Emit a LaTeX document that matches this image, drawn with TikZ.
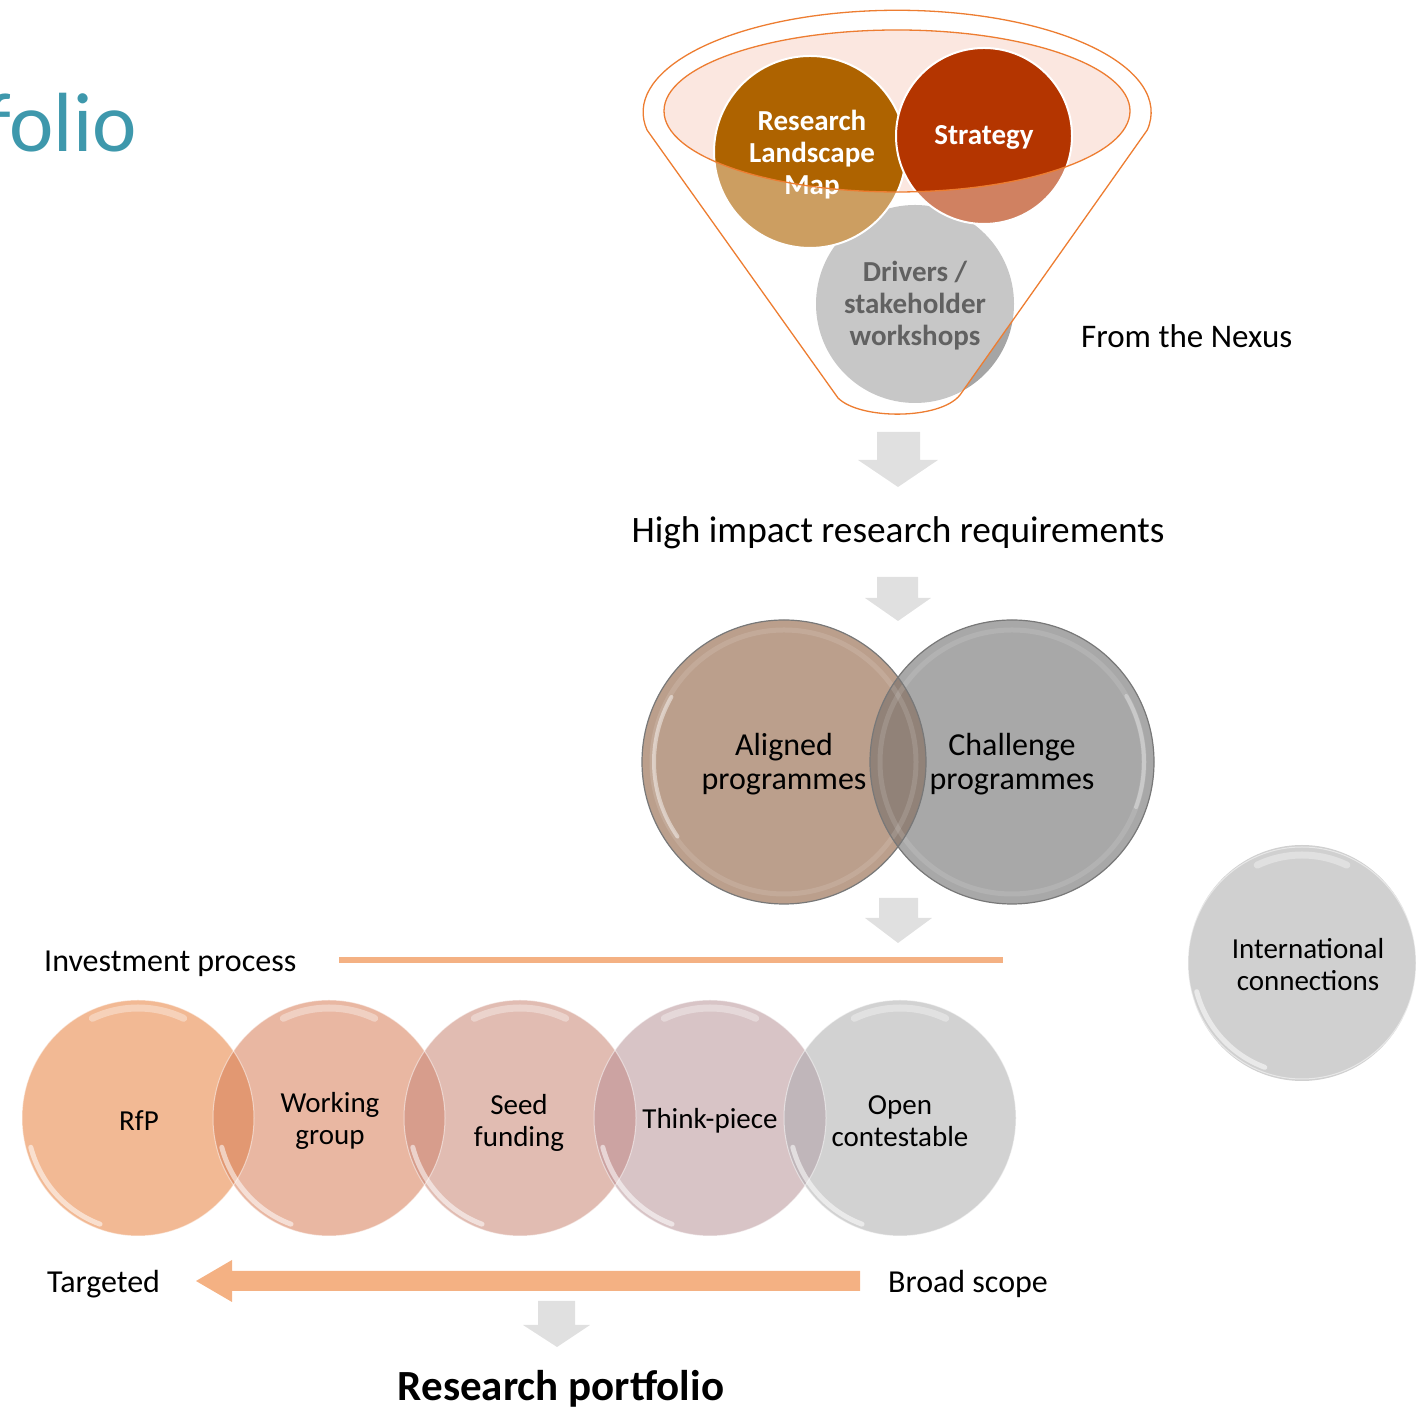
\documentclass[tikz,border=0pt]{standalone}
\usepackage{fontspec}
\setmainfont{Carlito}
\definecolor{funnelor}{RGB}{237,125,49}
\definecolor{pinkfill}{RGB}{251,231,224}
\definecolor{rlmcol}{RGB}{174,99,0}
\definecolor{stratcol}{RGB}{180,53,0}
\definecolor{drvcol}{RGB}{165,165,165}
\definecolor{blockgray}{RGB}{224,224,224}
\definecolor{lineor}{RGB}{244,177,131}
\definecolor{alignedcol}{RGB}{187,159,140}
\definecolor{challcol}{RGB}{168,168,168}
\definecolor{overac}{RGB}{145,130,120}
\definecolor{ringdark}{RGB}{120,120,120}
\definecolor{intlcol}{RGB}{208,208,208}
\definecolor{cA}{RGB}{242,185,148}
\definecolor{cB}{RGB}{233,183,162}
\definecolor{cC}{RGB}{225,188,178}
\definecolor{cD}{RGB}{216,196,198}
\definecolor{cE}{RGB}{210,210,210}
\definecolor{oAB}{RGB}{226,152,114}
\definecolor{oBC}{RGB}{215,157,140}
\definecolor{oCD}{RGB}{204,163,162}
\definecolor{oDE}{RGB}{192,182,186}
\definecolor{titleteal}{RGB}{62,152,172}
\tikzset{
  lbl/.style={font=\fontsize{32}{35}\selectfont, inner sep=0pt},
  wtxt/.style={font=\bfseries\fontsize{29}{32}\selectfont, align=center, inner sep=0pt, text=white},
  ktxt/.style={font=\bfseries\fontsize{29}{32}\selectfont, align=center, inner sep=0pt, text=black},
  ctxt/.style={font=\fontsize{29}{32}\selectfont, align=center, inner sep=0pt},
  mtxt/.style={font=\fontsize{32}{34}\selectfont, align=center, inner sep=0pt},
  blockarrow/.style={fill=blockgray},
  rimlight/.style={draw=white, draw opacity=0.55, line width=5, line cap=round},
  toplight/.style={draw=white, draw opacity=0.35, line width=7, line cap=round},
  edgelight/.style={draw=white, draw opacity=0.5, line width=1},
}
\newcommand{\glossell}[3]{% x, y, radius
  \draw[edgelight] (#1,#2) ellipse [x radius=#3-1, y radius=#3+1];
  \draw[rimlight] (#1,#2) ++(195:{#3-6} and {#3-4}) arc [start angle=195, end angle=250, x radius={#3-6}, y radius={#3-4}];
  \draw[toplight] (#1,#2) ++(65:{#3-9} and {#3-7}) arc [start angle=65, end angle=115, x radius={#3-9}, y radius={#3-7}];
}
\begin{document}
\begin{tikzpicture}[x=1pt,y=1pt]
\useasboundingbox (0,0) rectangle (1416,1407);

% title fragment
\node[font=\fontsize{84}{90}\selectfont, text=titleteal, anchor=base east, inner sep=0pt] (title) at (137,1255) {folio};

% ---------- funnel ----------
\fill[pinkfill] (897,1296) ellipse [x radius=233, y radius=81];
\fill[drvcol] (915,1103) circle [radius=99];
\draw[white, line width=2, fill=rlmcol] (810,1255) circle [radius=96];
\draw[white, line width=2, fill=stratcol] (984,1271) circle [radius=88];
\node[wtxt] (rlm) at (812,1252) {Research\\Landscape\\Map};
\node[wtxt] (strat) at (984,1270) {Strategy};
\node[ktxt] (drv) at (915,1101) {Drivers /\\stakeholder\\workshops};
% translucent funnel body (outside inner ellipse)
\fill[white, fill opacity=0.38, even odd rule]
  (647,1277) arc [start angle=190, end angle=-10, x radius=254, y radius=102]
  -- (960,1012) .. controls (940,987) and (860,987) .. (838,1009) -- cycle
  (897,1296) ellipse [x radius=233, y radius=81];
\draw[funnelor, line width=1.3]
  (647,1277) arc [start angle=190, end angle=-10, x radius=254, y radius=102]
  -- (960,1012) .. controls (940,987) and (860,987) .. (838,1009) -- cycle;
\draw[funnelor, line width=1.3] (897,1296) ellipse [x radius=233, y radius=81];

\node[font=\fontsize{33}{36}\selectfont, inner sep=0pt, anchor=west] (nexus) at (1081,1071) {From the Nexus};

% ---------- block arrows ----------
\fill[blockarrow] (877,975) -- (920,975) -- (920,947) -- (938,947) -- (898,920) -- (858,947) -- (877,947) -- cycle;
\node[font=\fontsize{37.3}{40}\selectfont, inner sep=0pt] (req) at (898,874) {High impact research requirements};
\fill[blockarrow] (877,830) -- (918,830) -- (918,809) -- (931,809) -- (898,786) -- (865,809) -- (877,809) -- cycle;

% ---------- aligned / challenge ----------
\fill[alignedcol] (784,645) circle [radius=142];
\fill[challcol] (1012,645) circle [radius=142];
\begin{scope}
  \clip (784,645) circle [radius=142];
  \fill[overac] (1012,645) circle [radius=142];
\end{scope}
\draw[white, draw opacity=0.12, line width=5] (784,645) circle [radius=132];
\draw[white, draw opacity=0.12, line width=5] (1012,645) circle [radius=132];
\draw[white, draw opacity=0.45, line width=4, line cap=round] (784,645) ++(150:130) arc [start angle=150, end angle=215, radius=130];
\draw[white, draw opacity=0.3, line width=4, line cap=round] (1012,645) ++(-20:132) arc [start angle=-20, end angle=30, radius=132];
\draw[ringdark, line width=1.2] (784,645) circle [radius=142];
\draw[ringdark, line width=1.2] (1012,645) circle [radius=142];
\node[mtxt] (aligned) at (784,643) {Aligned\\programmes};
\node[mtxt] (chall) at (1012,643) {Challenge\\programmes};

\fill[blockarrow] (879,509) -- (918,509) -- (918,489) -- (932,489) -- (898,464) -- (865,489) -- (879,489) -- cycle;

% ---------- international ----------
\fill[intlcol] (1302,444) ellipse [x radius=114, y radius=118];
\glossell{1302}{444}{115}
\node[ctxt] (intl) at (1308,442) {International\\connections};

% ---------- investment process ----------
\node[lbl, anchor=west] (invest) at (44,443) {Investment process};
\draw[lineor, line width=6] (339,447) -- (1003,447);

\fill[cA] (138,289) ellipse [x radius=116, y radius=118];
\fill[cB] (329,289) ellipse [x radius=116, y radius=118];
\fill[cC] (520,289) ellipse [x radius=116, y radius=118];
\fill[cD] (710,289) ellipse [x radius=116, y radius=118];
\fill[cE] (900,289) ellipse [x radius=116, y radius=118];
\begin{scope}\clip (138,289) ellipse [x radius=116, y radius=118];
  \fill[oAB] (329,289) ellipse [x radius=116, y radius=118];\end{scope}
\begin{scope}\clip (329,289) ellipse [x radius=116, y radius=118];
  \fill[oBC] (520,289) ellipse [x radius=116, y radius=118];\end{scope}
\begin{scope}\clip (520,289) ellipse [x radius=116, y radius=118];
  \fill[oCD] (710,289) ellipse [x radius=116, y radius=118];\end{scope}
\begin{scope}\clip (710,289) ellipse [x radius=116, y radius=118];
  \fill[oDE] (900,289) ellipse [x radius=116, y radius=118];\end{scope}
\foreach \cx in {138,329,520,710,900}{
  \glossell{\cx}{289}{117}
}
\node[ctxt] (rfp) at (139,286) {RfP};
\node[ctxt] (wg) at (330,286) {Working\\group};
\node[ctxt] (seed) at (519,284) {Seed\\funding};
\node[ctxt] (think) at (710,286) {Think-piece};
\node[ctxt] (open) at (900,286) {Open\\contestable};

% ---------- scope arrow ----------
\fill[lineor] (860,136) -- (232,136) -- (232,147) -- (196,126) -- (232,105) -- (232,116) -- (860,116) -- cycle;
\node[lbl, anchor=west] (targeted) at (47,123) {Targeted};
\node[lbl, anchor=west] (broad) at (888,123) {Broad scope};

\fill[blockarrow] (538,106) -- (575,106) -- (575,82) -- (590,82) -- (557,60) -- (523,82) -- (538,82) -- cycle;
\node[font=\bfseries\fontsize{43}{46}\selectfont, anchor=base, inner sep=0pt] (portfolio) at (561,6) {Research portfolio};
\end{tikzpicture}
\end{document}
